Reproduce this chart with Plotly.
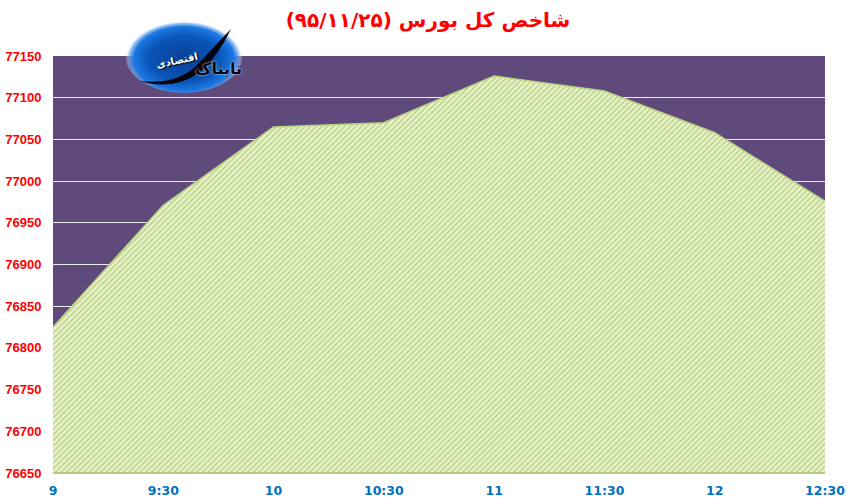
import base64
import plotly.graph_objects as go

times = ["9", "9:30", "10", "10:30", "11", "11:30", "12", "12:30"]
index_values = [76825, 76971, 77065, 77070, 77126, 77108, 77058, 76976]
y_ticks = [76650, 76700, 76750, 76800, 76850, 76900, 76950, 77000, 77050, 77100, 77150]
title_text = "شاخص کل بورس (۹۵/۱۱/۲۵)"
logo_main = "تابناک"
logo_sub = "اقتصادی"

W, H = 852, 504
L, R, T, B = 53, 825, 56, 473

logo_svg = """<svg xmlns="http://www.w3.org/2000/svg" width="118" height="76" viewBox="0 0 118 76">
<defs><radialGradient id="g" cx="50%" cy="55%" r="50%">
<stop offset="0%" stop-color="#0A3F96"/><stop offset="60%" stop-color="#0A55B8"/>
<stop offset="85%" stop-color="#1C78E4"/><stop offset="93%" stop-color="#6CA8EC" stop-opacity="0.7"/>
<stop offset="100%" stop-color="#ffffff" stop-opacity="0"/>
</radialGradient></defs>
<ellipse cx="59" cy="38" rx="59" ry="38" fill="url(#g)"/>
<path d="M15 64 C34 66 54 64 70 50 C82 38 94 24 106 12 C98 28 88 44 76 54 C58 69 34 70 15 64 Z" fill="#05050f"/>
</svg>"""
logo_uri = "data:image/svg+xml;base64," + base64.b64encode(logo_svg.encode()).decode()

fig = go.Figure()
fig.add_trace(go.Scatter(
    x=times, y=index_values, mode="lines",
    line=dict(color="#B9D27F", width=1.5),
    fill="tozeroy", fillcolor="#E4F0C4",
    fillpattern=dict(shape="/", fgcolor="#8DB33F", bgcolor="#EAF4D0", size=4, solidity=0.42),
    hoverinfo="skip", showlegend=False,
))
fig.update_layout(
    width=W, height=H, autosize=False,
    margin=dict(l=L, r=W - R, t=T, b=H - B, autoexpand=False),
    paper_bgcolor="white", plot_bgcolor="#604A7B",
    showlegend=False,
    font=dict(family="DejaVu Sans"),
    title=dict(text=title_text, x=428 / W, xanchor="center", xref="container", y=1 - 20 / H, yanchor="middle",
               font=dict(family="DejaVu Sans", size=20, color="#FF0000", weight="bold")),
    xaxis=dict(range=[0, 7], type="category", categoryorder="array", categoryarray=times,
               tickmode="array", tickvals=times, ticktext=times, showgrid=False, zeroline=False,
               showline=False, ticks="outside", ticklen=6, tickcolor="rgba(0,0,0,0)",
               tickfont=dict(family="DejaVu Sans", size=12.5, color="#0070C0", weight="bold")),
    yaxis=dict(range=[76650, 77150], tickmode="array", tickvals=y_ticks,
               ticktext=[str(v) for v in y_ticks], showgrid=True, gridcolor="#EDEAF0", gridwidth=1,
               zeroline=False, showline=False, ticks="outside", ticklen=8, tickcolor="rgba(0,0,0,0)",
               tickfont=dict(family="Liberation Sans", size=13, color="#FF0000", weight="bold")),
    shapes=[dict(type="line", xref="paper", yref="paper", x0=0, x1=1, y0=0, y1=0,
                 line=dict(color="#B5CC80", width=2), layer="above")],
    images=[dict(source=logo_uri, xref="paper", yref="paper", xanchor="left", yanchor="top",
                 x=(125 - L) / (R - L), y=(T - 17) / (B - T) + 1,
                 sizex=118 / (R - L), sizey=76 / (B - T), sizing="stretch", layer="above")],
    annotations=[
        dict(text=logo_main, xref="paper", yref="paper", showarrow=False, textangle=0,
             x=(218 - L) / (R - L), y=1 + (T - 68) / (B - T), xanchor="center", yanchor="middle",
             font=dict(family="DejaVu Sans", size=16, color="#05050f", weight="bold",
                       shadow="0 0 2px #ffffff")),
        dict(text=logo_sub, xref="paper", yref="paper", showarrow=False, textangle=-12,
             x=(177 - L) / (R - L), y=1 + (T - 60) / (B - T), xanchor="center", yanchor="middle",
             font=dict(family="DejaVu Sans", size=10, color="white", weight="bold",
                       shadow="1px 1px 1px #000000")),
    ],
)
fig.write_html("out.html", post_script="document.body.style.margin='0';",
               config={"displayModeBar": False})
